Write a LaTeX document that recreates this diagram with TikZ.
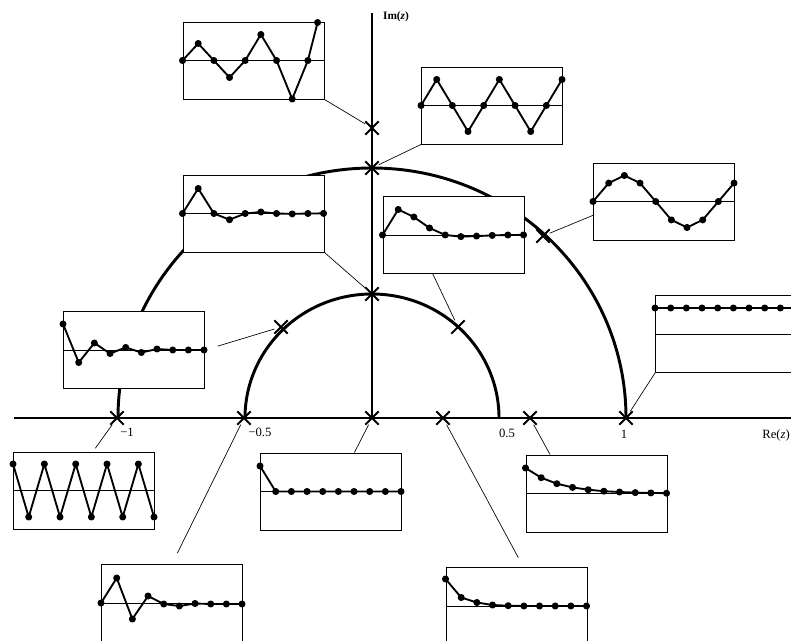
\documentclass[tikz,border=0pt]{standalone}
\usepackage{fontspec}
\setmainfont{Liberation Serif}
\usetikzlibrary{shapes.misc}

\begin{document}
\begin{tikzpicture}[
        x=0.75pt, y=-0.75pt,
        axis/.style={line width=1.1pt},
        circ/.style={line width=2.2pt},
        inset/.style={rectangle, draw=black, line width=0.7pt, fill=white, minimum width=105.75pt, minimum height=57.75pt, inner sep=0pt},
        zeroline/.style={line width=0.7pt},
        sig/.style={line width=1.4pt, line join=round, mark=*, mark size=1.9pt, x=11.75pt, y=0.75pt},
        pole/.style={cross out, draw=black, line width=1.5pt, minimum size=8.5pt, inner sep=0pt},
        leader/.style={line width=0.5pt},
        tick/.style={font=\fontsize{9.5}{10}\selectfont, inner sep=0pt}
    ]
    \useasboundingbox (0,0) rectangle (791,641);
    \coordinate (O) at (372,418);
    \coordinate (reL) at (14,418);
    \coordinate (reR) at (800,418);
    \coordinate (imT) at (372,13);
    \draw[axis] (reL) -- (reR);
    \draw[axis] (O) -- (imT);
    \draw[circ] (626,418) arc[start angle=0, end angle=-180, x radius=254, y radius=250];
    \draw[circ] (499,418) arc[start angle=0, end angle=-180, x radius=127, y radius=124];

    \node[inset] (b1) at (253.5,60.5) {};
    \node[inset] (b2) at (492,105.5) {};
    \node[inset] (b3) at (664,201.5) {};
    \node[inset] (b4) at (253.5,213.5) {};
    \node[inset] (b5) at (453.5,235) {};
    \node[inset] (b6) at (134,350) {};
    \node[inset] (b7) at (726,334) {};
    \node[inset] (b8) at (84,490.5) {};
    \node[inset] (b9) at (331,491.5) {};
    \node[inset] (b10) at (596.5,493.5) {};
    \node[inset] (b11) at (172,603) {};
    \node[inset] (b12) at (516.5,606) {};

    \node[pole] (m1) at (372,128) {};
    \node[pole] (m2) at (372,168) {};
    \node[pole] (m3) at (543,236) {};
    \node[pole] (m4) at (372,294) {};
    \node[pole] (m5) at (458,327) {};
    \node[pole] (m6) at (281,327) {};
    \node[pole] (m7) at (626,418) {};
    \node[pole] (m8) at (117,418) {};
    \node[pole] (m9) at (372,418) {};
    \node[pole] (m10) at (530,418) {};
    \node[pole] (m11) at (244,418) {};
    \node[pole] (m12) at (443,418) {};

    \node[tick] (t1) at (127,432) {−1};
    \node[tick] (t2) at (260,432) {−0.5};
    \node[tick] (t3) at (507,433) {0.5};
    \node[tick] (t4) at (624,434) {1};
    \node[tick, font=\fontsize{8.5}{9}\selectfont\bfseries] (imlab) at (396,17) {Im(\textit{z})};
    \node[tick, anchor=east] (relab) at (790,435) {Re(\textit{z})};

    \draw[leader] (b1.south east) -- (m1);
    \draw[leader] (m2) -- (b2.south west);
    \draw[leader] (m3) -- (b3.191);
    \draw[leader] (b4.south east) -- (m4);
    \draw[leader] (m5) -- (b5.242);
    \draw[leader, shorten <=10pt] (b6.east) -- (m6);
    \draw[leader] (m7) -- (b7.south west);
    \draw[leader, shorten >=3pt] (m8) -- (b8.77);
    \draw[leader] (m9) -- (b9.59);
    \draw[leader] (m10) -- (b10.140);
    \draw[leader, shorten >=9pt] (m11) -- (b11.north);
    \draw[leader, shorten >=8pt] (m12) -- (b12.80);

    \draw[zeroline] (b1.west) -- (b1.east);
    \draw[sig, shift={(b1.west)}] plot coordinates {(0,0) (1,17) (2,0) (3,-17) (4,0) (5,26) (6,0) (7,-38.5) (8,0) (8.62,38)};
    \draw[zeroline] (b2.west) -- (b2.east);
    \draw[sig, shift={(b2.west)}] plot coordinates {(0,0) (1,26) (2,0) (3,-26) (4,0) (5,26) (6,0) (7,-26) (8,0) (9,26)};
    \draw[zeroline] (b3.west) -- (b3.east);
    \draw[sig, shift={(b3.west)}] plot coordinates {(0,0) (1,18.4) (2,26) (3,18.4) (4,0) (5,-18.4) (6,-26) (7,-18.4) (8,0) (9,18.4)};
    \draw[zeroline] (b4.west) -- (b4.east);
    \draw[sig, shift={(b4.west)}] plot coordinates {(0,0) (1,25) (2,0) (3,-6.2) (4,0) (5,1.5) (6,0) (7,-0.4) (8,0) (9,0.1)};
    \draw[zeroline] (b5.west) -- (b5.east);
    \draw[sig, shift={(b5.west)}] plot coordinates {(0,0) (1,25.5) (2,18) (3,7) (4,0) (5,-1.6) (6,-1.1) (7,-0.4) (8,0) (9,0.1)};
    \draw[zeroline] (b6.west) -- (b6.east);
    \draw[sig, shift={(b6.west)}] plot coordinates {(0,26) (1,-12.5) (2,7) (3,-3.5) (4,2.5) (5,-2.5) (6,1) (7,0) (8,0) (9,0)};
    \draw[zeroline] (b7.west) -- (b7.east);
    \draw[sig, shift={(b7.west)}] plot coordinates {(0,26) (1,26) (2,26) (3,26) (4,26) (5,26) (6,26) (7,26) (8,26) (9,26)};
    \draw[zeroline] (b8.west) -- (b8.east);
    \draw[sig, shift={(b8.west)}] plot coordinates {(0,26.5) (1,-26.5) (2,26.5) (3,-26.5) (4,26.5) (5,-26.5) (6,26.5) (7,-26.5) (8,26.5) (9,-26.5)};
    \draw[zeroline] (b9.west) -- (b9.east);
    \draw[sig, shift={(b9.west)}] plot coordinates {(0,25.5) (1,0) (2,0) (3,0) (4,0) (5,0) (6,0) (7,0) (8,0) (9,0)};
    \draw[zeroline] (b10.west) -- (b10.east);
    \draw[sig, shift={(b10.west)}] plot coordinates {(0,25.5) (1,15.8) (2,9.8) (3,6.1) (4,3.8) (5,2.3) (6,1.5) (7,0.9) (8,0.6) (9,0.3)};
    \draw[zeroline] (b11.west) -- (b11.east);
    \draw[sig, shift={(b11.west)}] plot coordinates {(0,0) (1,25) (2,-16) (3,7) (4,-1) (5,-3) (6,-0.5) (7,-1) (8,-1) (9,-1)};
    \draw[zeroline] (b12.west) -- (b12.east);
    \draw[sig, shift={(b12.west)}] plot coordinates {(0,27) (1,8.5) (2,3.5) (3,1) (4,0.3) (5,0) (6,0) (7,0) (8,0) (9,0)};
\end{tikzpicture}
\end{document}
